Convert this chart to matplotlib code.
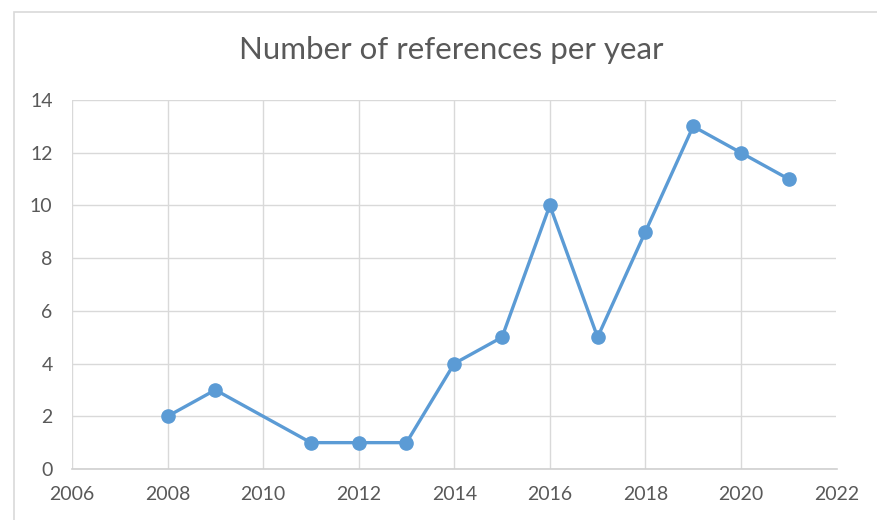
import matplotlib
matplotlib.use("Agg")
import matplotlib.pyplot as plt
from matplotlib.patches import Rectangle

years = [2008, 2009, 2011, 2012, 2013, 2014, 2015, 2016, 2017, 2018, 2019, 2020, 2021]
counts = [2, 3, 1, 1, 1, 4, 5, 10, 5, 9, 13, 12, 11]
x_ticks = [2006, 2008, 2010, 2012, 2014, 2016, 2018, 2020, 2022]
y_ticks = [0, 2, 4, 6, 8, 10, 12, 14]
title = "Number of references per year"

plt.rcParams['font.family'] = ['Lato', 'DejaVu Sans']

W, H = 878, 520
fig = plt.figure(figsize=(W / 100, H / 100), dpi=100)
fig.patch.set_facecolor("white")

# outer chart frame (cropped at right/bottom)
fig.add_artist(Rectangle((14.5 / W, -0.1), 1.2, (H - 11.5) / H + 0.1,
                         transform=fig.transFigure, fill=False,
                         edgecolor="#d9d9d9", linewidth=1.2))

left, right, top, bottom = 72, 836.5, 100, 469
ax = fig.add_axes([left / W, 1 - bottom / H, (right - left) / W, (bottom - top) / H])
ax.plot(years, counts, color="#5b9bd5", linewidth=2.4, marker="o",
        markersize=9.5, zorder=3, clip_on=False)
ax.set_xlim(2006, 2022)
ax.set_ylim(0, 14)
ax.set_xticks(x_ticks)
ax.set_yticks(y_ticks)
ax.grid(True, color="#d9d9d9", linewidth=1.0)
ax.set_axisbelow(True)
for s in ["top", "right", "left"]:
    ax.spines[s].set_visible(False)
ax.spines["bottom"].set_color("#d0d0d0")
ax.spines["bottom"].set_linewidth(1.2)
ax.tick_params(length=0, labelsize=14, labelcolor="#595959")
ax.tick_params(axis="x", pad=12)
ax.tick_params(axis="y", pad=14)

fig.text(451 / W, 1 - 50 / H, title, ha="center", va="center",
         fontsize=22.5, color="#595959")

fig.savefig("out.png", dpi=100)
